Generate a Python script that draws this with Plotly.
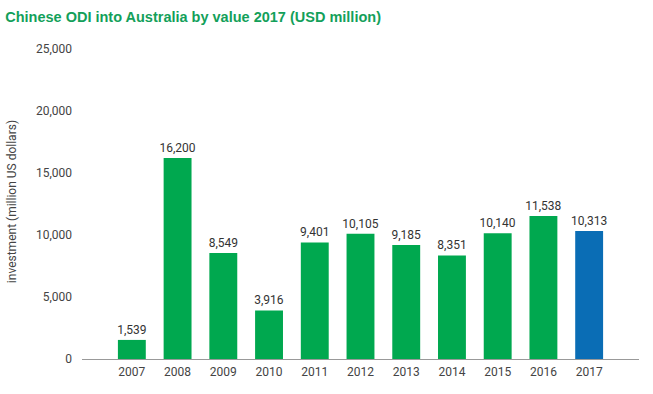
import plotly.graph_objects as go

years = ["2007", "2008", "2009", "2010", "2011", "2012", "2013", "2014", "2015", "2016", "2017"]
values = [1539, 16200, 8549, 3916, 9401, 10105, 9185, 8351, 10140, 11538, 10313]
labels = ["1,539", "16,200", "8,549", "3,916", "9,401", "10,105", "9,185", "8,351", "10,140", "11,538", "10,313"]
colors = ["#00a84f"] * 10 + ["#0a6db5"]
y_ticks = [0, 5000, 10000, 15000, 20000, 25000]
y_tick_text = ["0", "5,000", "10,000", "15,000", "20,000", "25,000"]

fig = go.Figure(go.Bar(
    x=years, y=values, marker_color=colors, marker_line_width=0,
    text=labels, textposition="outside", cliponaxis=False, constraintext="none",
    textfont=dict(family="Roboto, Arial, sans-serif", size=12, color="#333333"),
))

fig.update_layout(
    width=653, height=394,
    margin=dict(l=82, r=14, t=49, b=35),
    paper_bgcolor="white", plot_bgcolor="white",
    bargap=0.39,
    showlegend=False,
    font=dict(family="Roboto, Arial, sans-serif", size=12, color="#444444"),
    title=dict(text="<b>Chinese ODI into Australia by value 2017 (USD million)</b>",
               x=0.008, xanchor="left", xref="container",
               y=1 - 17 / 394, yanchor="middle", yref="container",
               font=dict(family="Liberation Sans, Arial, sans-serif", size=14.5, color="#13a05a")),
    xaxis=dict(type="category", range=[-1.09, 11.09], showline=True, linecolor="#999999",
               linewidth=1, ticks="", showgrid=False, ticklabelstandoff=2,
               tickfont=dict(size=12, color="#444444")),
    yaxis=dict(range=[0, 25000], tickvals=y_ticks, ticktext=y_tick_text, showgrid=False,
               zeroline=False, showline=False, ticks="", ticklabelstandoff=9,
               tickfont=dict(size=12, color="#444444")),
    annotations=[dict(text="investment (million US dollars)", textangle=-90,
                      xref="paper", yref="paper", x=(12 - 82) / 557, y=0.506,
                      xanchor="center", yanchor="middle", showarrow=False,
                      font=dict(size=12, color="#444444"))],
)

fig.write_html("out.html", config={"displayModeBar": False},
               post_script="document.body.style.margin='0';")
